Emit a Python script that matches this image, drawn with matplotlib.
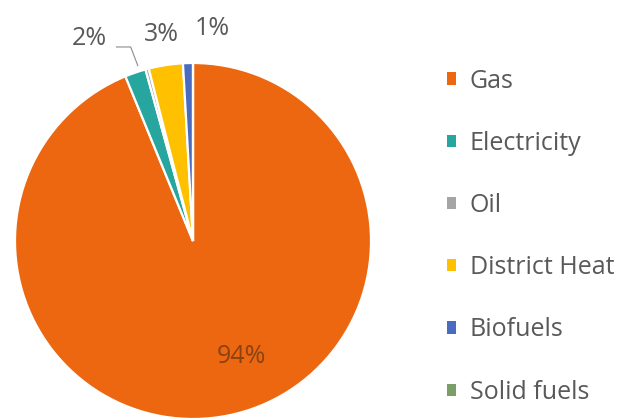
import matplotlib.pyplot as plt

# Energy use by fuel, percent share
fuels = ['Gas', 'Electricity', 'Oil', 'District Heat', 'Biofuels', 'Solid fuels']
shares = [93.8, 1.9, 0.3, 3.1, 0.9, 0.0]
colours = ['#EC670F', '#26A69E', '#A5A5A5', '#FFC000', '#4A6CC0', '#7A9E68']

plt.rcParams['font.family'] = ['Open Sans', 'DejaVu Sans']
text_col = '#595959'
fs = 18

fig = plt.figure(figsize=(6.33, 4.18), dpi=100)
# pie centred at about (193, 241) px with radius ~178 px
ax = fig.add_axes([(193 - 178) / 633, (177 - 178) / 418, 356 / 633, 356 / 418])

wedges, _ = ax.pie(shares, colors=colours, startangle=90, counterclock=False,
                   wedgeprops=dict(edgecolor='white', linewidth=1.6))
ax.set_xlim(-1, 1)
ax.set_ylim(-1, 1)
ax.axis('off')

total = sum(shares)
pct = [f'{round(v / total * 100):.0f}%' for v in shares]

# label spots (data coords) for the visible slices
ax.text(0.27, -0.65, pct[0], ha='center', va='center', fontsize=fs, color='#8a4213')
ax.text(-0.58, 1.14, pct[1], ha='center', va='center', fontsize=fs, color=text_col, clip_on=False)
ax.text(-0.18, 1.16, pct[3], ha='center', va='center', fontsize=fs, color=text_col, clip_on=False)
ax.text(0.11, 1.195, pct[4], ha='center', va='center', fontsize=fs, color=text_col, clip_on=False)

# leader line for the electricity label
ax.plot([-0.43, -0.35, -0.31], [1.09, 1.09, 0.985], color='#8c8c8c', lw=0.8, clip_on=False)

leg = fig.legend(wedges, fuels, loc='upper left', bbox_to_anchor=(424 / 633, 1 - 46 / 418),
                 frameon=False, fontsize=fs, handlelength=0.38, handleheight=0.38,
                 handletextpad=0.55, labelspacing=1.49, labelcolor=text_col)
for h in leg.legend_handles:
    h.set_edgecolor('none')

fig.savefig('out.png', dpi=100)
